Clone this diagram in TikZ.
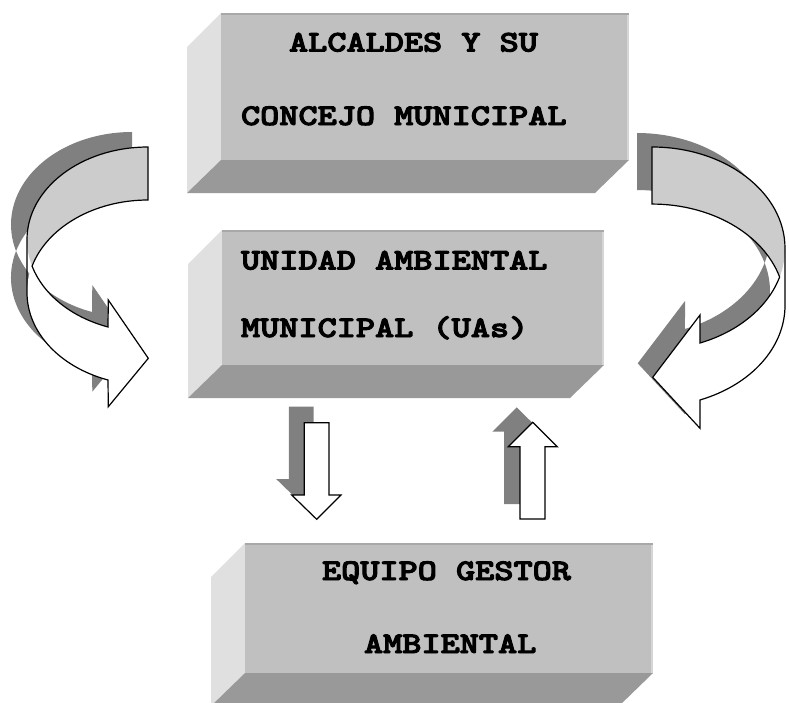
\documentclass[tikz,border=0pt]{standalone}
\usepackage{graphicx}
\usepackage{fontspec}
\newfontfamily\boxfont{lmmonolt10-bold.otf}[FakeBold=3]
\definecolor{frontgray}{HTML}{C0C0C0}
\definecolor{sidegray}{HTML}{E0E0E0}
\definecolor{bottomgray}{HTML}{999999}
\definecolor{shadowgray}{HTML}{808080}
\definecolor{bandgray}{HTML}{CCCCCC}
\definecolor{edgedark}{HTML}{A8A8A8}
\definecolor{edgelight}{HTML}{D6D6D6}
\tikzset{
  frontface/.style={fill=frontgray, inner sep=0pt, outer sep=0pt, anchor=north west},
  lbl/.style={anchor=base west, inner sep=0pt, outer sep=0pt,
    font=\fontsize{30}{36}\selectfont\boxfont},
  outl/.style={draw=black, line width=1.2pt, line join=miter},
}
% #1 name, #2 x1, #3 y1, #4 x2, #5 y2, #6 width, #7 height
\newcommand\solidbox[7]{%
  \fill[sidegray] (#2,#3) -- ({#2-34},{#3+34}) -- ({#2-34},{#5+33}) -- (#2,#5) -- cycle;
  \fill[bottomgray] (#2,#5) -- (#4,#5) -- ({#4-34},{#5+33}) -- ({#2-34},{#5+33}) -- cycle;
  \node[frontface, minimum width=#6pt, minimum height=#7pt] (#1) at (#2,#3) {};
  \fill[edgedark] (#2,#3) rectangle (#4,{#3+2});
  \fill[edgelight] ({#4-2.5},{#3+2}) rectangle (#4,#5);
}
\newcommand\lbox[1]{\scalebox{1.216}[1]{#1}}
% left curved arrow
\newcommand\LgrayPath{(148,147) arc[start angle=270, end angle=163.37, x radius=121, y radius=92.6]
  arc[start angle=196.63, end angle=270, x radius=121, y radius=92.6] -- cycle}
\newcommand\LwhitePath{(32.1,266.1) arc[start angle=163.37, end angle=109.3, x radius=121, y radius=92.6]
  -- (108.3,300) -- (148.3,358.3) -- (108.3,406.7) -- (108,379.9)
  arc[start angle=109.3, end angle=196.63, x radius=121, y radius=92.6] -- cycle}
\newcommand\LoutlinePath{(148,147) arc[start angle=270, end angle=180, x radius=121, y radius=92.6]
  -- (27,292.6) arc[start angle=180, end angle=109.3, x radius=121, y radius=92.6]
  -- (108.3,406.7) -- (148.3,358.3) -- (108.3,300) -- (108,327)
  arc[start angle=109.3, end angle=163.37, x radius=121, y radius=92.6]
  arc[start angle=196.63, end angle=270, x radius=121, y radius=92.6] -- cycle}
% right curved arrow
\newcommand\RgrayPath{(652,147) arc[start angle=-90, end angle=16.33, x radius=133, y radius=101.4]
  arc[start angle=-16.33, end angle=-90, x radius=133, y radius=101.4] -- cycle}
\newcommand\RwhitePath{(779.6,276.9) arc[start angle=16.33, end angle=68.84, x radius=133, y radius=101.4]
  -- (700,315) -- (652.7,377.3) -- (700,428.3) -- (700,400)
  arc[start angle=68.84, end angle=-16.33, x radius=133, y radius=101.4] -- cycle}
\newcommand\RoutlinePath{(652,147) arc[start angle=-90, end angle=0, x radius=133, y radius=101.4]
  -- (785,305.4) arc[start angle=0, end angle=68.84, x radius=133, y radius=101.4]
  -- (700,428.3) -- (652.7,377.3) -- (700,315) -- (700,343)
  arc[start angle=68.84, end angle=16.33, x radius=133, y radius=101.4]
  arc[start angle=-16.33, end angle=-90, x radius=133, y radius=101.4] -- cycle}
% straight arrows
\newcommand\DownPath{(304.3,422.7) -- (329,422.7) -- (329,495) -- (341,495) -- (316.7,519.3) -- (291.7,495) -- (304.3,495) -- cycle}
\newcommand\UpPath{(520,519) -- (545,519) -- (545,446.7) -- (557.3,446.7) -- (532.7,422.3) -- (508.3,446.7) -- (520,446.7) -- cycle}
\begin{document}
\begin{tikzpicture}[x=1pt, y=1pt, yscale=-1]
\useasboundingbox (0,0) rectangle (789,702);
\clip (0,0) rectangle (789,702);
\fill[white] (0,0) rectangle (789,702);

% boxes
\solidbox{b1}{221}{13}{629}{160}{408}{147}
\solidbox{b2}{222}{230}{604}{365}{382}{135}
\solidbox{b3}{245}{543}{653}{673}{408}{130}

\node[lbl] (t1a) at (289,51.5) {\lbox{ALCALDES Y SU}};
\node[lbl] (t1b) at (241,125) {\lbox{CONCEJO MUNICIPAL}};
\node[lbl] (t2a) at (241,269.5) {\lbox{UNIDAD AMBIENTAL}};
\node[lbl] (t2b) at (241,337) {\lbox{MUNICIPAL (UAs)}};
\node[lbl] (t3a) at (322,580) {\lbox{EQUIPO GESTOR}};
\node[lbl] (t3b) at (364,653) {\lbox{AMBIENTAL}};

% shadows
\begin{scope}[shift={(-16,-15)}]
  \fill[shadowgray] \LgrayPath;
  \fill[shadowgray] \LwhitePath;
\end{scope}
\begin{scope}[shift={(-15,-14)}]
  \fill[shadowgray] \RgrayPath;
  \fill[shadowgray] \RwhitePath;
\end{scope}
\begin{scope}[shift={(-15.5,-16)}]
  \fill[shadowgray] \DownPath;
\end{scope}
\begin{scope}[shift={(-16,-15)}]
  \fill[shadowgray] \UpPath;
\end{scope}

% curved arrows
\fill[bandgray] \LgrayPath;
\fill[white] \LwhitePath;
\draw[outl] \LoutlinePath;
\fill[bandgray] \RgrayPath;
\fill[white] \RwhitePath;
\draw[outl] \RoutlinePath;

% straight arrows
\filldraw[outl, fill=white] \DownPath;
\filldraw[outl, fill=white] \UpPath;
\end{tikzpicture}
\end{document}
